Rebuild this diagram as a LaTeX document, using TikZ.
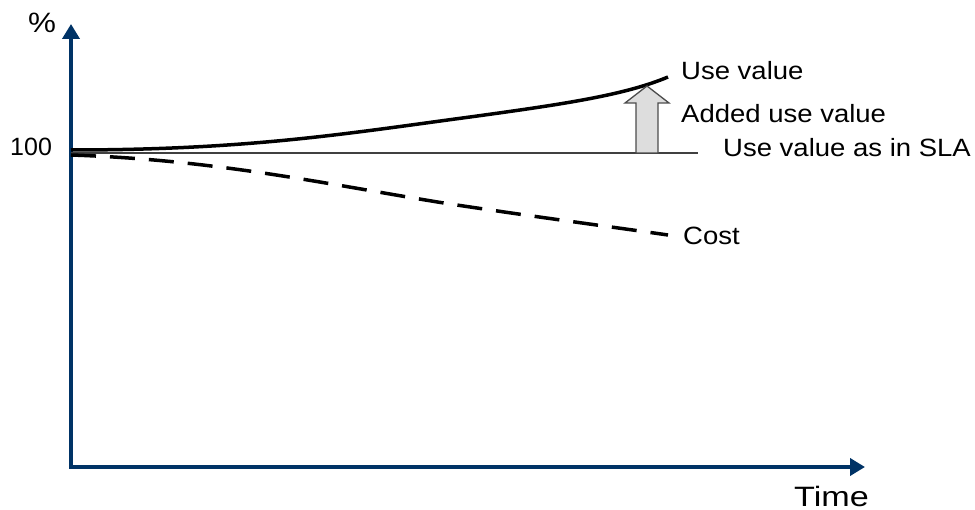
\documentclass[tikz,border=0pt]{standalone}
\usepackage{fontspec}
\usepackage{graphicx}
\setmainfont{Liberation Sans}
\usetikzlibrary{arrows.meta}
\definecolor{axisblue}{RGB}{0,51,102}
\definecolor{arrowfill}{RGB}{221,221,221}
\begin{document}
\begin{tikzpicture}[x=1pt,y=-1pt,
  axis/.style={draw=axisblue,line width=4.5pt,-{Triangle[length=15pt,width=17pt]}},
  lbl/.style={font=\fontsize{25}{28}\selectfont,inner sep=0pt,anchor=base west},
  big/.style={font=\fontsize{28}{30}\selectfont,inner sep=0pt,anchor=base west},
  mid/.style={font=\fontsize{25}{28}\selectfont,inner sep=0pt,anchor=base west}]
\useasboundingbox (0,0) rectangle (975,510);
% axes
\coordinate (ytop) at (71,24);
\coordinate (xend) at (865,467);
\draw[axis] (71,469) -- (ytop);
\draw[axis] (69,467) -- (xend);
\node[big] (pct) at (28,33) {\scalebox{1.12}[1]{\%}};
\node[mid] (hund) at (10,156) {100};
\node[big] (time) at (794,506) {\scalebox{1.22}[1]{Time}};
% SLA line
\coordinate (slaA) at (71,153);
\coordinate (slaB) at (698,153);
\draw[line width=1.3pt,black!75] (slaA) -- (slaB);
% use value curve
\coordinate (uvA) at (71,150);
\coordinate (uvB) at (668,77);
\draw[line width=3.5pt] (uvA) .. controls (250,150) and (350,133) .. (470,117)
  .. controls (565,104) and (625,95) .. (uvB);
% cost
\coordinate (cA) at (71,155);
\coordinate (cB) at (668,235);
\draw[line width=3.5pt,dash pattern=on 25pt off 14pt] (cA) .. controls (220,160) and (330,185) .. (450,204)
  .. controls (550,219) and (620,228) .. (cB);
% block arrow
\draw[draw=black!70,fill=arrowfill,line width=1.3pt]
  (636,153) -- (636,103) -- (625,103) -- (647,86) -- (669,103) -- (658,103) -- (658,153) -- cycle;
% labels
\node[lbl] (luv) at (681,80) {\scalebox{1.1}[1]{Use value}};
\node[lbl] (ladd) at (681,123) {\scalebox{1.1}[1]{Added use value}};
\node[lbl] (lsla) at (723,157) {\scalebox{1.1}[1]{Use value as in SLA}};
\node[lbl] (lcost) at (683,245) {\scalebox{1.1}[1]{Cost}};
\end{tikzpicture}
\end{document}
